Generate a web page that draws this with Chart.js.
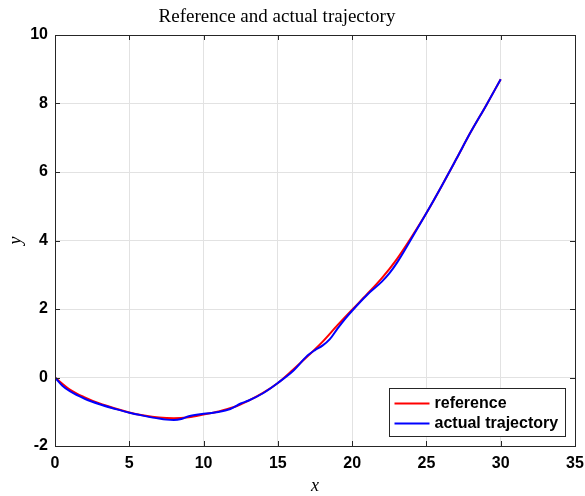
<!DOCTYPE html>
<html>
<head>
<meta charset="utf-8">
<script src="https://cdn.jsdelivr.net/npm/chart.js@4"></script>
<style>
    html, body { margin: 0; padding: 0; background: #fff; }
</style>
</head>
<body>
<canvas id="trajChart" width="585" height="496"></canvas>
<script>
/* ================= DATA ================= */
const refX = [0, 1, 2, 3, 4, 5, 6, 7, 8, 9, 10, 11, 12, 13, 14, 15, 16, 17, 18, 19, 20, 21, 22, 23, 24, 25, 26, 27, 28, 29, 30];
const refY = [0, -0.35, -0.58, -0.76, -0.90, -1.02, -1.11, -1.17, -1.19, -1.16, -1.08, -0.99, -0.87, -0.68, -0.45, -0.16, 0.22, 0.62, 1.04, 1.52, 1.98, 2.43, 2.90, 3.45, 4.10, 4.80, 5.57, 6.37, 7.18, 7.93, 8.71];

const actX = [0, 0.5, 1, 2, 3, 4, 5, 6, 7, 7.5, 8, 8.5, 9, 10, 11, 11.8, 12.5, 13, 14, 15, 16, 17, 17.5, 18, 18.5, 19, 19.5, 20, 21, 22, 22.5, 23, 24, 25, 26, 27, 28, 29, 30];
const actY = [0, -0.24, -0.40, -0.62, -0.78, -0.91, -1.03, -1.12, -1.20, -1.23, -1.24, -1.21, -1.13, -1.06, -1.01, -0.92, -0.76, -0.68, -0.46, -0.16, 0.18, 0.64, 0.80, 0.93, 1.12, 1.42, 1.70, 1.95, 2.41, 2.80, 3.04, 3.34, 4.06, 4.80, 5.57, 6.37, 7.18, 7.93, 8.71];

const seriesLabels = ["reference", "actual trajectory"];
const xTicks = [0, 5, 10, 15, 20, 25, 30, 35];
const yTicks = [-2, 0, 2, 4, 6, 8, 10];

const toPoints = (xs, ys) => xs.map((x, i) => ({ x: x, y: ys[i] }));

/* ================= PLUGINS ================= */
const AXIS_COLOR = "#262626";

// MATLAB-like box with inward ticks on all four sides
const boxPlugin = {
    id: "boxAxes",
    afterDatasetsDraw(chart) {
        const { ctx, chartArea: a, scales } = chart;
        ctx.save();
        ctx.strokeStyle = AXIS_COLOR;
        ctx.lineWidth = 1;
        ctx.beginPath();
        xTicks.forEach(v => {
            const px = Math.round(scales.x.getPixelForValue(v)) + 0.5;
            ctx.moveTo(px, a.bottom); ctx.lineTo(px, a.bottom - 5);
            ctx.moveTo(px, a.top); ctx.lineTo(px, a.top + 5);
        });
        yTicks.forEach(v => {
            const py = Math.round(scales.y.getPixelForValue(v)) + 0.5;
            ctx.moveTo(a.left, py); ctx.lineTo(a.left + 5, py);
            ctx.moveTo(a.right, py); ctx.lineTo(a.right - 5, py);
        });
        ctx.stroke();
        ctx.strokeRect(Math.round(a.left) + 0.5, Math.round(a.top) + 0.5,
            Math.round(a.right - a.left), Math.round(a.bottom - a.top));
        ctx.restore();
    }
};

// title centred where the original puts it
const titlePlugin = {
    id: "plotTitle",
    afterDraw(chart) {
        const ctx = chart.ctx;
        ctx.save();
        ctx.fillStyle = "#000";
        ctx.font = "19px 'Liberation Serif', serif";
        ctx.textAlign = "center";
        ctx.textBaseline = "middle";
        ctx.fillText("Reference and actual trajectory", 277, 17);
        ctx.restore();
    }
};

// legend box in the lower right corner of the axes
const legendPlugin = {
    id: "boxLegend",
    afterDraw(chart) {
        const ctx = chart.ctx;
        const a = chart.chartArea;
        const w = 176, h = 48;
        const x0 = Math.round(a.right - 10 - w) + 0.5;
        const y0 = Math.round(a.bottom - 10 - h) + 0.5;
        ctx.save();
        ctx.fillStyle = "#fff";
        ctx.fillRect(x0, y0, w, h);
        ctx.strokeStyle = AXIS_COLOR;
        ctx.lineWidth = 1;
        ctx.strokeRect(x0, y0, w, h);
        ctx.font = "bold 16px 'Liberation Sans', Arial, sans-serif";
        ctx.textBaseline = "middle";
        ctx.textAlign = "left";
        chart.data.datasets.forEach((ds, i) => {
            const yy = y0 + 15 + i * 20;
            ctx.strokeStyle = ds.borderColor;
            ctx.lineWidth = 2;
            ctx.beginPath();
            ctx.moveTo(x0 + 5, yy);
            ctx.lineTo(x0 + 40, yy);
            ctx.stroke();
            ctx.fillStyle = "#000";
            ctx.fillText(ds.label, x0 + 45, yy);
        });
        ctx.restore();
    }
};

/* ================= CHART ================= */
const tickFont = { family: "'Liberation Sans', Arial, sans-serif", size: 16, weight: "bold" };
const labelFont = { family: "'Liberation Serif', serif", size: 18, style: "italic", lineHeight: 1 };

new Chart(document.getElementById("trajChart").getContext("2d"), {
    type: "line",
    data: {
        datasets: [{
            label: seriesLabels[0],
            data: toPoints(refX, refY),
            borderColor: "#ff0000",
            borderWidth: 2,
            pointRadius: 0,
            cubicInterpolationMode: "monotone",
            fill: false,
            order: 2
        }, {
            label: seriesLabels[1],
            data: toPoints(actX, actY),
            borderColor: "#0000ff",
            borderWidth: 2,
            pointRadius: 0,
            cubicInterpolationMode: "monotone",
            fill: false,
            order: 1
        }]
    },
    options: {
        responsive: false,
        animation: false,
        devicePixelRatio: 1,
        layout: { padding: { top: 35, right: 10, left: 0, bottom: 0 } },
        plugins: {
            legend: { display: false },
            title: { display: false },
            tooltip: { enabled: false }
        },
        scales: {
            x: {
                type: "linear",
                min: 0,
                max: 35,
                afterBuildTicks: s => { s.ticks = xTicks.map(v => ({ value: v })); },
                afterFit: s => { s.height = 50; s.paddingLeft = 0; s.paddingRight = 0; },
                ticks: { font: tickFont, color: "#000", padding: 8, maxRotation: 0 },
                grid: { color: "#e2e2e2", drawTicks: false },
                border: { display: false },
                title: { display: true, text: "x", font: labelFont, color: "#000", padding: { top: 0, bottom: 0.5 } }
            },
            y: {
                type: "linear",
                min: -2,
                max: 10,
                afterBuildTicks: s => { s.ticks = yTicks.map(v => ({ value: v })); },
                afterFit: s => { s.width = 55; s.paddingTop = 0; s.paddingBottom = 0; },
                ticks: { font: tickFont, color: "#000", padding: 7 },
                grid: { color: "#e2e2e2", drawTicks: false },
                border: { display: false },
                title: { display: true, text: "y", font: labelFont, color: "#000", padding: { top: 7, bottom: 0 } }
            }
        }
    },
    plugins: [boxPlugin, titlePlugin, legendPlugin]
});
</script>
</body>
</html>
